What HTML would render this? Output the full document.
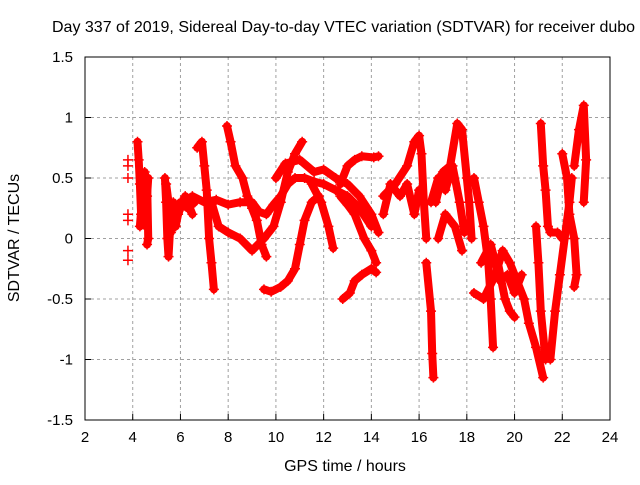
<!DOCTYPE html>
<html><head><meta charset="utf-8"><style>
body{margin:0;background:#fff;}
svg text{font-family:"Liberation Sans",sans-serif;font-size:15px;fill:#000;}
svg text.big{font-size:16px;}
</style></head><body>
<svg id="chart" width="640" height="480" xmlns="http://www.w3.org/2000/svg">
<text class="big" x="52" y="32">Day 337 of 2019, Sidereal Day-to-day VTEC variation (SDTVAR) for receiver dubo</text>
<g id="grid"></g>
<g id="marks"></g>
<rect x="85" y="57" width="525" height="363" fill="none" stroke="#000" stroke-width="1"/>
<g id="ticks"></g>
<text class="big" x="345" y="471" text-anchor="middle">GPS time / hours</text>
<text class="big" transform="translate(19,238) rotate(-90)" text-anchor="middle">SDTVAR / TECUs</text>
</svg>
<script>
const xTicks=[2,4,6,8,10,12,14,16,18,20,22,24];
const yTicks=[-1.5,-1,-0.5,0,0.5,1,1.5];
const yTickLabels=["-1.5","-1","-0.5","0","0.5","1","1.5"];
const trackA=[[3.8,0.65],[3.8,0.6],[3.8,0.5],[3.8,0.2],[3.8,0.15],[3.8,-0.1],[3.8,-0.18]];
const trackB=[[4.2,0.8],[4.25,0.65],[4.3,0.45],[4.35,0.2],[4.4,0.5],[4.5,0.3],[4.55,0.1],[4.6,0.5],[4.65,0.0],[4.6,-0.05]];
const trackB2=[[4.3,0.1],[4.4,0.35],[4.5,0.55],[4.55,0.2],[4.6,0.35],[4.65,0.5]];
const trackC=[[5.35,0.5],[5.4,0.3],[5.45,0.0],[5.5,-0.15],[5.6,0.2],[5.8,0.1],[6.0,0.3],[6.3,0.25],[6.6,0.3]];
const trackC2=[[5.4,0.45],[5.5,0.3],[5.6,0.05],[5.7,0.3],[5.9,0.2],[6.2,0.35],[6.5,0.2]];
const trackD=[[6.7,0.75],[6.9,0.8],[7.0,0.6],[7.1,0.4],[7.2,0.0],[7.3,-0.2],[7.4,-0.42]];
const trackE=[[7.95,0.93],[8.1,0.8],[8.3,0.6],[8.6,0.5],[8.8,0.35],[9.0,0.25],[9.2,0.15],[9.4,-0.05],[9.6,-0.15]];
const trackF=[[5.5,0.25],[6,0.28],[6.5,0.35],[7,0.3],[7.5,0.32],[8,0.28],[8.5,0.3],[9,0.3],[9.3,0.22],[9.6,0.2],[9.9,0.28],[10.2,0.35],[10.5,0.45],[10.8,0.5],[11.2,0.5],[11.6,0.47],[12,0.45],[12.5,0.4],[13,0.35],[13.5,0.25],[14,0.1]];
const trackG=[[7.3,0.3],[7.6,0.1],[8,0.05],[8.5,0.0],[9,-0.1],[9.5,0.0],[9.9,0.1],[10.2,0.3]];
const trackH=[[10,0.5],[10.4,0.62],[11,0.65],[11.6,0.55],[12,0.57],[12.5,0.5],[13,0.45],[13.5,0.35],[14,0.2],[14.3,0.05]];
const trackI=[[10.2,0.3],[10.5,0.55],[10.8,0.7],[11.1,0.8]];
const trackJ=[[9.5,-0.42],[9.8,-0.44],[10.2,-0.4],[10.5,-0.35],[10.8,-0.25],[11.0,-0.05],[11.2,0.15],[11.5,0.3],[11.8,0.35]];
const trackK=[[11.5,0.45],[11.9,0.3],[12.2,0.1],[12.4,-0.08]];
const trackL=[[12.8,-0.5],[13.1,-0.45],[13.3,-0.35],[13.6,-0.3],[14,-0.25],[14.2,-0.28]];
const trackM=[[12.7,0.45],[13.0,0.6],[13.3,0.65],[13.6,0.68],[14.1,0.67],[14.3,0.68]];
const trackN=[[12.7,0.35],[13,0.28],[13.3,0.2],[13.7,0.0],[14.0,-0.1],[14.2,-0.2]];
const trackO=[[14.5,0.35],[15,0.45],[15.5,0.6],[15.8,0.8],[16.0,0.85],[16.1,0.7],[16.2,0.3],[16.3,0.0]];
const trackP=[[14.5,0.2],[14.8,0.45],[15.2,0.35],[15.5,0.45],[15.8,0.2],[16.0,0.4]];
const trackQ=[[16.3,-0.2],[16.5,-0.6],[16.55,-0.95],[16.6,-1.15]];
const trackR=[[16.7,0.3],[17,0.55],[17.3,0.6],[17.6,0.95],[17.8,0.9],[18,0.5],[18.1,0.3],[18.2,0.0]];
const trackS=[[16.8,0.0],[17.1,0.2],[17.5,0.1],[17.8,-0.1]];
const trackS2=[[16.5,0.3],[16.8,0.5],[17.1,0.4],[17.4,0.6],[17.7,0.3],[17.9,0.05]];
const trackT=[[18.3,0.5],[18.5,0.3],[18.7,0.1],[18.9,-0.2],[19.0,-0.5],[19.1,-0.9]];
const trackU=[[18.3,-0.45],[18.7,-0.5],[19.2,-0.3],[19.5,-0.1],[19.8,-0.2],[20.1,-0.35],[20.4,-0.5],[20.6,-0.7],[20.9,-0.9],[21.2,-1.15]];
const trackV=[[19.3,-0.2],[19.6,-0.5],[19.8,-0.6],[20.0,-0.65]];
const trackV2=[[18.6,-0.2],[19.0,-0.05],[19.4,-0.35],[19.7,-0.3],[20.0,-0.45],[20.3,-0.3]];
const trackW=[[21.1,0.95],[21.2,0.6],[21.3,0.4],[21.4,0.1],[21.5,0.05],[21.8,0.05],[22.0,0.0]];
const trackX=[[20.9,0.1],[21.0,-0.2],[21.1,-0.6],[21.3,-1.0]];
const trackY=[[21.5,-1.0],[21.7,-0.6],[21.9,-0.3],[22.1,0.0],[22.3,0.3],[22.4,0.5]];
const trackZ=[[22.0,0.7],[22.2,0.5],[22.3,0.2],[22.5,0.0],[22.6,-0.3],[22.5,-0.4]];
const trackAA=[[22.5,0.6],[22.7,0.9],[22.9,1.1],[23.0,0.65],[22.9,0.3]];
const tracks=[trackA,trackB,trackB2,trackC,trackC2,trackD,trackE,trackF,trackG,trackH,trackI,trackJ,trackK,trackL,trackM,trackN,trackO,trackP,trackQ,trackR,trackS,trackS2,trackT,trackU,trackV,trackV2,trackW,trackX,trackY,trackZ,trackAA];

const X0=85,X1=610,Y0=420,Y1=57;
function xs(h){return X0+(h-2)/(24-2)*(X1-X0);}
function ys(v){return Y0-(v+1.5)/3*(Y0-Y1);}
const NS="http://www.w3.org/2000/svg";
const grid=document.getElementById('grid'),ticks=document.getElementById('ticks'),marks=document.getElementById('marks');
function mk(tag,attrs,parent){const e=document.createElementNS(NS,tag);for(const k in attrs)e.setAttribute(k,attrs[k]);parent.appendChild(e);return e;}
xTicks.forEach(t=>{
  const x=xs(t);
  if(t>2&&t<24){const g=mk('line',{x1:x,x2:x,y1:Y1,y2:Y0,stroke:'#a0a0a0','stroke-dasharray':'3,3'},grid);
  
  }
  const tk=mk('line',{x1:x,x2:x,y1:Y0,y2:Y0-6,stroke:'#000'},ticks);
  
  
  const lb=mk('text',{x:x,y:Y0+22,'text-anchor':'middle'},ticks);lb.textContent=t;
  
  
});
yTicks.forEach((t,i)=>{
  const y=ys(t);
  if(i>0&&i<yTicks.length-1){const g=mk('line',{x1:X0,x2:X1,y1:y,y2:y,stroke:'#a0a0a0','stroke-dasharray':'3,3'},grid);
  
  }
  const tk=mk('line',{x1:X0,x2:X0+6,y1:y,y2:y,stroke:'#000'},ticks);
  
  
  const lb=mk('text',{x:X0-12,y:y+5,'text-anchor':'end'},ticks);lb.textContent=yTickLabels[i];
  
  
});
tracks.forEach((tr,ti)=>{
  if(tr.length>1 && ti>0){
    const pl=mk('polyline',{points:tr.map(p=>xs(p[0])+','+ys(p[1])).join(' '),fill:'none',stroke:'#ff0000','stroke-width':8,'stroke-linejoin':'round','stroke-linecap':'round'},marks);
    
    
  }
  tr.forEach(p=>{
    const x=xs(p[0]),y=ys(p[1]);
    const m=mk('path',{d:`M${x-5},${y}H${x+5}M${x},${y-5}V${y+5}`,stroke:'#ff0000','stroke-width':1.5},marks);
    
    
  });
});
</script>
</body></html>
